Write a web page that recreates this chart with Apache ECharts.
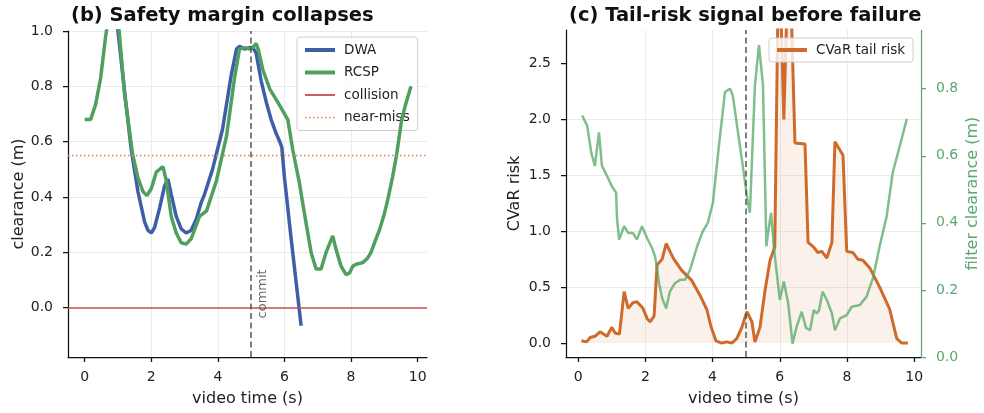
<!DOCTYPE html>
<html>
<head>
<meta charset="utf-8">
<script src="https://cdn.jsdelivr.net/npm/echarts@6/dist/echarts.min.js"></script>
<style>
  html, body { margin: 0; padding: 0; background: #fff; }
  #chart { width: 984px; height: 413px; }
</style>
</head>
<body>
<div id="chart"></div>
<script>
// (b) clearance traces
const dwaT = [0, 0.5, 0.9, 1.0, 1.2, 1.4, 1.6, 1.8, 1.9, 2.0, 2.1, 2.25, 2.4, 2.5, 2.6, 2.75, 2.9, 3.05, 3.2, 3.35, 3.5, 3.6, 3.84, 4.14, 4.4, 4.56, 4.65, 4.8, 4.95, 5.05, 5.15, 5.3, 5.46, 5.6, 5.75, 5.86, 5.92, 6.0, 6.2, 6.4, 6.5];
const dwaY = [1.2, 1.25, 1.1, 1.0, 0.78, 0.57, 0.42, 0.31, 0.28, 0.27, 0.29, 0.36, 0.44, 0.465, 0.41, 0.33, 0.285, 0.27, 0.28, 0.32, 0.38, 0.41, 0.5, 0.645, 0.84, 0.935, 0.945, 0.935, 0.94, 0.94, 0.92, 0.82, 0.74, 0.68, 0.63, 0.6, 0.58, 0.47, 0.25, 0.04, -0.065];
const rcspT = [0, 0.18, 0.33, 0.48, 0.63, 0.8, 1.0, 1.2, 1.44, 1.6, 1.75, 1.87, 2.0, 2.15, 2.35, 2.45, 2.6, 2.75, 2.9, 3.05, 3.2, 3.45, 3.66, 3.96, 4.26, 4.5, 4.65, 4.8, 4.95, 5.05, 5.15, 5.22, 5.35, 5.56, 5.86, 6.1, 6.25, 6.45, 6.6, 6.8, 6.95, 7.1, 7.25, 7.35, 7.45, 7.55, 7.7, 7.85, 7.95, 8.05, 8.15, 8.35, 8.5, 8.6, 8.75, 8.85, 9.0, 9.1, 9.25, 9.37, 9.52, 9.65, 9.8];
const rcspY = [0.68, 0.68, 0.735, 0.83, 0.98, 1.12, 1.05, 0.77, 0.555, 0.47, 0.42, 0.405, 0.43, 0.49, 0.51, 0.46, 0.33, 0.27, 0.235, 0.23, 0.25, 0.33, 0.35, 0.46, 0.62, 0.83, 0.935, 0.94, 0.935, 0.94, 0.955, 0.93, 0.86, 0.79, 0.73, 0.68, 0.57, 0.45, 0.34, 0.2, 0.14, 0.14, 0.2, 0.23, 0.26, 0.21, 0.15, 0.12, 0.125, 0.15, 0.157, 0.163, 0.18, 0.2, 0.25, 0.28, 0.34, 0.39, 0.475, 0.555, 0.68, 0.74, 0.8];
const collisionLevel = 0;
const nearMissLevel = 0.55;
const commitT = 5;

// (c) tail risk and filter clearance
const riskT = [0.1, 0.25, 0.36, 0.5, 0.65, 0.86, 1.0, 1.1, 1.23, 1.37, 1.49, 1.63, 1.75, 1.93, 2.05, 2.14, 2.26, 2.35, 2.5, 2.62, 2.83, 3.08, 3.38, 3.62, 3.83, 3.95, 4.1, 4.27, 4.42, 4.57, 4.72, 4.87, 5.02, 5.17, 5.26, 5.41, 5.56, 5.71, 5.85, 5.94, 6.02, 6.12, 6.22, 6.33, 6.45, 6.75, 6.84, 7.0, 7.13, 7.25, 7.4, 7.55, 7.64, 7.88, 7.99, 8.17, 8.32, 8.47, 8.68, 8.97, 9.27, 9.48, 9.63, 9.81];
const riskY = [0.02, 0.01, 0.05, 0.06, 0.1, 0.06, 0.14, 0.09, 0.08, 0.46, 0.31, 0.36, 0.37, 0.31, 0.22, 0.19, 0.24, 0.7, 0.75, 0.89, 0.76, 0.65, 0.56, 0.43, 0.3, 0.15, 0.02, 0.0, 0.01, 0.0, 0.04, 0.14, 0.28, 0.19, 0.01, 0.14, 0.47, 0.74, 0.86, 2.9, 3.1, 2.0, 3.1, 3.1, 1.79, 1.78, 0.9, 0.86, 0.81, 0.82, 0.76, 0.9, 1.8, 1.68, 0.82, 0.81, 0.75, 0.74, 0.67, 0.5, 0.3, 0.04, 0.0, 0.0];
const filterT = [0.12, 0.27, 0.39, 0.5, 0.62, 0.71, 0.86, 1.0, 1.13, 1.16, 1.22, 1.37, 1.49, 1.63, 1.75, 1.9, 2.05, 2.2, 2.29, 2.41, 2.5, 2.62, 2.73, 2.88, 3.03, 3.18, 3.33, 3.54, 3.71, 3.86, 4.01, 4.2, 4.37, 4.52, 4.6, 4.87, 5.05, 5.11, 5.26, 5.38, 5.5, 5.6, 5.68, 5.74, 5.82, 5.91, 6.0, 6.12, 6.25, 6.38, 6.5, 6.65, 6.78, 6.9, 7.01, 7.1, 7.17, 7.27, 7.4, 7.55, 7.64, 7.79, 7.99, 8.14, 8.38, 8.58, 8.77, 8.97, 9.18, 9.36, 9.57, 9.78];
const filterY = [0.72, 0.69, 0.61, 0.57, 0.67, 0.57, 0.54, 0.51, 0.49, 0.41, 0.35, 0.39, 0.37, 0.37, 0.35, 0.39, 0.355, 0.325, 0.3, 0.22, 0.175, 0.145, 0.195, 0.22, 0.23, 0.23, 0.26, 0.33, 0.375, 0.4, 0.46, 0.64, 0.79, 0.8, 0.78, 0.59, 0.46, 0.43, 0.81, 0.93, 0.81, 0.33, 0.39, 0.43, 0.33, 0.25, 0.17, 0.225, 0.16, 0.04, 0.09, 0.135, 0.087, 0.08, 0.14, 0.13, 0.14, 0.195, 0.17, 0.13, 0.08, 0.115, 0.125, 0.15, 0.155, 0.18, 0.235, 0.33, 0.42, 0.55, 0.63, 0.71];

// tick labels
const timeTicks = [0, 2, 4, 6, 8, 10];
const clearTicks = [0, 0.2, 0.4, 0.6, 0.8, 1.0];
const riskTicks = [0, 0.5, 1.0, 1.5, 2.0, 2.5];
const filterTicks = [0, 0.2, 0.4, 0.6, 0.8];

const FONT = 'DejaVu Sans';
const INK = '#222';
const C_DWA = '#3f5ea8';
const C_RCSP = '#4fa060';
const C_COLL = '#c44e52';
const C_NEAR = '#dd8452';
const C_RISK = '#cf6a2b';
const C_FILT = 'rgba(85,168,104,0.75)';
const C_FILT_AX = '#5aa870';
const GRIDC = '#e6e6e6';

const zip = (xs, ys) => xs.map((x, i) => [x, ys[i]]);

function xAxisOpt(gridIndex, min, max) {
  return {
    type: 'value', gridIndex, min, max,
    name: 'video time (s)', nameLocation: 'middle', nameGap: 34,
    nameTextStyle: { fontFamily: FONT, fontSize: 16, color: INK },
    axisLine: { onZero: false, lineStyle: { color: '#111', width: 1.25 } },
    axisTick: { show: true, length: 5, customValues: timeTicks, lineStyle: { color: '#111', width: 1.25 } },
    axisLabel: { customValues: timeTicks, fontFamily: FONT, fontSize: 14, color: INK, margin: 13 },
    splitLine: { show: true, showMinLine: false, showMaxLine: false, lineStyle: { color: GRIDC, width: 0.8 } }
  };
}

function yAxisOpt(gridIndex, min, max, ticks, name, gap, opts) {
  const color = (opts && opts.color) || INK;
  const lineC = (opts && opts.color) || '#111';
  return {
    type: 'value', gridIndex, min, max,
    position: (opts && opts.position) || 'left',
    name, nameLocation: 'middle', nameGap: gap, nameRotate: 90,
    nameTextStyle: { fontFamily: FONT, fontSize: 16, color },
    axisLine: { show: true, onZero: false, lineStyle: { color: lineC, width: 1.25 } },
    axisTick: { show: true, length: 5, customValues: ticks, lineStyle: { color: lineC, width: 1.25 } },
    axisLabel: { customValues: ticks, fontFamily: FONT, fontSize: 14, color, margin: 15,
      formatter: (v) => v.toFixed(1) },
    splitLine: (opts && opts.noSplit) ? { show: false } :
      { show: true, showMinLine: false, showMaxLine: !(opts && opts.hideMax), lineStyle: { color: GRIDC, width: 0.8 } }
  };
}

const legendBox = {
  orient: 'vertical',
  backgroundColor: 'rgba(255,255,255,0.8)',
  borderColor: '#cccccc', borderWidth: 1, borderRadius: 3,
  itemWidth: 30, itemHeight: 14, itemGap: 8.5,
  itemStyle: { opacity: 0 },
  textStyle: { fontFamily: FONT, fontSize: 13.5, color: INK, padding: [0, 0, 0, 4] }
};

const option = {
  backgroundColor: '#fff',
  animation: false,
  title: [
    { text: '(b) Safety margin collapses', left: 66, top: 1,
      textStyle: { fontFamily: FONT, fontSize: 19.5, fontWeight: 'bold', color: '#111' } },
    { text: '(c) Tail-risk signal before failure', left: 564, top: 1,
      textStyle: { fontFamily: FONT, fontSize: 19.5, fontWeight: 'bold', color: '#111' } }
  ],
  legend: [
    Object.assign({}, legendBox, {
      left: 297, top: 37, padding: [6, 8, 6, 6],
      data: [
        { name: 'DWA', lineStyle: { width: 4 } },
        { name: 'RCSP', lineStyle: { width: 4 } },
        { name: 'collision', lineStyle: { width: 1.8 } },
        { name: 'near-miss', lineStyle: { width: 1.6 } }
      ]
    }),
    Object.assign({}, legendBox, {
      left: 769, top: 38, padding: [5, 8, 5, 6],
      data: [{ name: 'CVaR tail risk', lineStyle: { width: 4 } }]
    })
  ],
  grid: [
    { left: 68, top: 31, width: 359, height: 326 },
    { left: 566, top: 30, width: 355, height: 327 }
  ],
  xAxis: [
    xAxisOpt(0, -0.5, 10.28),
    xAxisOpt(1, -0.36, 10.2)
  ],
  yAxis: [
    yAxisOpt(0, -0.178, 1.0, clearTicks, 'clearance (m)', 40),
    yAxisOpt(1, -0.125, 2.8, riskTicks, 'CVaR risk', 43, { hideMax: true }),
    yAxisOpt(1, 0, 0.975, filterTicks, 'filter clearance (m)', 44,
      { position: 'right', color: C_FILT_AX, noSplit: true })
  ],
  series: [
    {
      name: 'DWA', type: 'line', xAxisIndex: 0, yAxisIndex: 0,
      data: zip(dwaT, dwaY), symbol: 'none', z: 3,
      color: C_DWA, lineStyle: { color: C_DWA, width: 3.5 }
    },
    {
      name: 'RCSP', type: 'line', xAxisIndex: 0, yAxisIndex: 0,
      data: zip(rcspT, rcspY), symbol: 'none', z: 4,
      color: C_RCSP, lineStyle: { color: C_RCSP, width: 3.5 }
    },
    {
      name: 'collision', type: 'line', xAxisIndex: 0, yAxisIndex: 0,
      data: [], symbol: 'none', z: 2,
      color: C_COLL, lineStyle: { color: C_COLL, width: 1.6 },
      markLine: { silent: true, symbol: ['none', 'none'], label: { show: false },
        lineStyle: { color: C_COLL, width: 1.6, type: 'solid' },
        data: [{ yAxis: collisionLevel }] }
    },
    {
      name: 'near-miss', type: 'line', xAxisIndex: 0, yAxisIndex: 0,
      data: [], symbol: 'none', z: 2,
      color: C_NEAR, lineStyle: { color: C_NEAR, width: 1.4, type: [1.5, 2.5] },
      markLine: { silent: true, symbol: ['none', 'none'], label: { show: false },
        lineStyle: { color: C_NEAR, width: 1.4, type: [1.5, 2.5] },
        data: [{ yAxis: nearMissLevel }] }
    },
    {
      name: 'commit', type: 'scatter', xAxisIndex: 0, yAxisIndex: 0,
      data: [[commitT + 0.34, 0.05]], symbolSize: 0, z: 6,
      label: { show: true, position: 'inside', rotate: 90, formatter: 'commit',
        fontFamily: FONT, fontSize: 13, color: '#444' },
      markLine: { silent: true, symbol: ['none', 'none'], label: { show: false },
        lineStyle: { color: '#555', width: 1.5, type: [6, 3.5] },
        data: [{ xAxis: commitT }] }
    },
    {
      name: 'CVaR tail risk', type: 'line', xAxisIndex: 1, yAxisIndex: 1,
      data: zip(riskT, riskY), symbol: 'none', z: 3,
      color: C_RISK, lineStyle: { color: C_RISK, width: 3 },
      areaStyle: { color: 'rgba(221,132,82,0.16)', origin: 0 }
    },
    {
      name: 'filter clearance', type: 'line', xAxisIndex: 1, yAxisIndex: 2,
      data: zip(filterT, filterY), symbol: 'none', z: 4,
      color: C_FILT, lineStyle: { color: C_FILT, width: 2.5 }
    },
    {
      name: 'commit2', type: 'line', xAxisIndex: 1, yAxisIndex: 1,
      data: [], symbol: 'none', z: 5,
      markLine: { silent: true, symbol: ['none', 'none'], label: { show: false },
        lineStyle: { color: '#555', width: 1.5, type: [6, 3.5] },
        data: [{ xAxis: commitT }] }
    }
  ]
};

const chart = echarts.init(document.getElementById('chart'));
chart.setOption(option);
</script>
</body>
</html>
